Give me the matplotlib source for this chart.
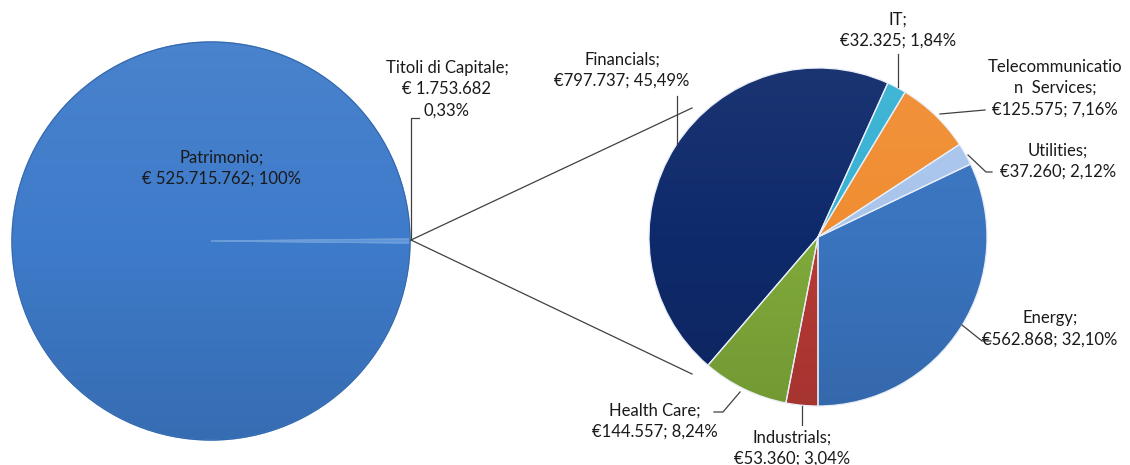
import numpy as np
import matplotlib
matplotlib.use("Agg")
import matplotlib.pyplot as plt
import matplotlib.colors as mcolors
from matplotlib.colors import LinearSegmentedColormap

plt.rcParams['font.family'] = ['Lato', 'DejaVu Sans']

# left pie
main_names = ["Titoli di Capitale", "Patrimonio"]
main_values = [1753682, 525715762]
main_pct = ["0,33%", "100%"]

# right pie (clockwise from 6 o'clock)
sector_names = ["Industrials", "Health Care", "Financials", "IT",
                "Telecommunication Services", "Utilities", "Energy"]
sector_values = [53360, 144557, 797737, 32325, 125575, 37260, 562868]
sector_colors = ["#B83A35", "#80AA3A", "#0F2A6B", "#38B2D4",
                 "#F08D32", "#A9C5EC", "#3A74BF"]

W, H = 1130, 465


def img(x, y):
    """image pixel coords -> axes data coords (y up)"""
    return x, H - y


def eur(v):
    return "€" + f"{v:,}".replace(",", ".")


def shade(ax, wedge, color, cx, cy, r, light=0.1, dark=0.88):
    c = np.array(mcolors.to_rgb(color))
    top = c + (1 - c) * light
    bottom = c * dark
    cmap = LinearSegmentedColormap.from_list("g", [bottom, c, top])
    grad = np.linspace(0, 1, 256).reshape(-1, 1)
    im = ax.imshow(grad, extent=(cx - r, cx + r, cy - r, cy + r), origin="lower",
                   cmap=cmap, aspect="auto", zorder=2, interpolation="bilinear")
    im.set_clip_path(wedge)
    wedge.set_facecolor("none")
    wedge.set_zorder(3)


fig = plt.figure(figsize=(W / 100, H / 100), dpi=100)
ax = fig.add_axes([0, 0, 1, 1])

# ---- left pie
lcx, lcy = img(211, 241)
lr = 199
theta = main_values[0] / sum(main_values) * 360
left_colors = ["#5E97DA", "#3E7BCA"]
wl, _ = ax.pie(main_values, center=(lcx, lcy), radius=lr, startangle=-theta / 2,
               counterclock=True, colors=left_colors,
               wedgeprops=dict(edgecolor="#6E9FDA", linewidth=0.8), frame=True)
for w, col in zip(wl, left_colors):
    shade(ax, w, col, lcx, lcy, lr, light=0.06, dark=0.88)
ax.add_patch(plt.Circle((lcx, lcy), lr, fill=False, ec="#356AB0", lw=1.0, zorder=4))

# ---- right pie
rcx, rcy = img(818, 237)
rr = 169
wr, _ = ax.pie(sector_values, center=(rcx, rcy), radius=rr, startangle=270,
               counterclock=False, colors=sector_colors,
               wedgeprops=dict(edgecolor="#E8EEF7", linewidth=0.9), frame=True)
for w, col in zip(wr, sector_colors):
    shade(ax, w, col, rcx, rcy, rr, light=0.05, dark=0.9)

# ---- series lines
vx, vy = img(411, 240)
for ex, ey in [(692, 108), (692, 374)]:
    ax.plot([vx, ex], [vy, H - ey], color="#404040", lw=0.9, zorder=5)

tkw = dict(ha="center", va="center", fontsize=12, color="#1a1a1a", zorder=6,
           linespacing=1.4)
lkw = dict(color="#404040", lw=0.9, zorder=5)

# left pie labels
ax.text(*img(222, 168), f"{main_names[1]};\n€ {main_values[1]:,}; {main_pct[1]}".replace(",", ".", 2), **tkw)
ax.text(*img(447, 89), f"{main_names[0]};\n€ {main_values[0]:,}\n{main_pct[0]}".replace(",", ".", 2), **tkw)
ax.plot([411, 411, 419], [H - 240, H - 118, H - 118], **lkw)

# right pie labels
total = sum(sector_values)
lab = {n: (eur(v) + "; " + f"{v / total * 100:.2f}%".replace(".", ","))
       for n, v in zip(sector_names, sector_values)}

ax.text(*img(622, 70), "Financials;\n" + lab["Financials"], **tkw)
ax.plot([677, 677], [H - 96, H - 144], **lkw)

ax.text(*img(898, 30), "IT;\n" + lab["IT"], **tkw)
ax.plot([898, 898], [H - 54, H - 87], **lkw)

ax.text(*img(1055, 88), "Telecommunicatio\nn  Services;\n" + lab["Telecommunication Services"], **tkw)
ax.plot([985, 940], [H - 110, H - 114], **lkw)

ax.text(*img(1058, 161), "Utilities;\n" + lab["Utilities"], **tkw)
ax.plot([992, 986, 968], [H - 172, H - 172, H - 155], **lkw)

ax.text(*img(1050, 329), "Energy;\n" + lab["Energy"], **tkw)
ax.plot([991, 982, 962], [H - 341, H - 341, H - 325], **lkw)

ax.text(*img(792, 448), "Industrials;\n" + lab["Industrials"], **tkw)
ax.plot([802, 802], [H - 406, H - 425], **lkw)

ax.text(*img(655, 421), "Health Care;\n" + lab["Health Care"], **tkw)
ax.plot([714, 723, 740], [H - 412, H - 412, H - 392], **lkw)

ax.set_xlim(0, W)
ax.set_ylim(0, H)
ax.set_aspect("equal")
ax.axis("off")
fig.savefig("out.png", dpi=100, facecolor="white")
